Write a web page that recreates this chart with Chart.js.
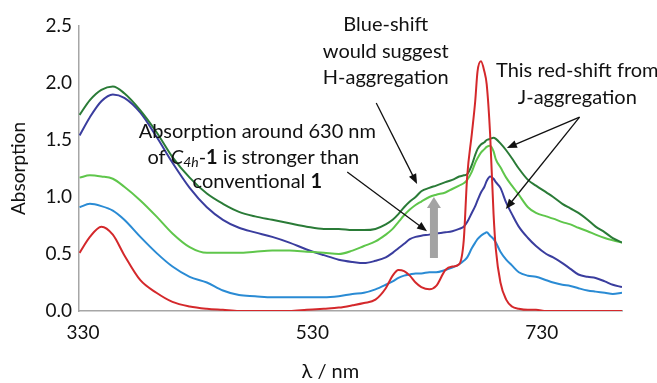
<!DOCTYPE html>
<html>
<head>
<meta charset="utf-8">
<script src="https://cdn.jsdelivr.net/npm/chart.js@4.4.1/dist/chart.umd.min.js"></script>
<style>
  html, body { margin: 0; padding: 0; background: #fff; }
  #wrap { width: 657px; height: 383px; position: relative; }
</style>
</head>
<body>
<div id="wrap"><canvas id="spectra"></canvas></div>
<script>
// ============================
// Data
// ============================
const wavelength = [327,336,346,356,366,380,394,408,423,438,452,466,480,495,510,525,540,553,565,575,
                    585,594,600,605,610,615,620,625,632,638,646,652,658,662,665,669,672,674,677,680,
                    682,685,688,690,694,699,704,710,718,725,734,740,748,755,762,770,777,785,792,800];

const darkGreen = [1.72,1.85,1.94,1.97,1.91,1.76,1.57,1.35,1.17,1.03,0.94,0.87,0.83,0.80,0.77,0.74,0.72,0.72,0.71,0.71,
                   0.72,0.76,0.80,0.85,0.91,0.96,1.00,1.05,1.08,1.10,1.13,1.15,1.18,1.19,1.20,1.28,1.37,1.42,1.46,1.48,
                   1.50,1.51,1.52,1.51,1.47,1.41,1.34,1.25,1.15,1.10,1.04,1.00,0.94,0.90,0.86,0.80,0.74,0.69,0.64,0.60];

const lightGreen = [1.17,1.19,1.18,1.16,1.09,0.97,0.83,0.68,0.56,0.51,0.51,0.51,0.52,0.53,0.53,0.52,0.51,0.50,0.53,0.57,
                    0.61,0.67,0.72,0.78,0.84,0.89,0.93,0.96,1.00,1.02,1.04,1.07,1.10,1.12,1.15,1.22,1.30,1.34,1.39,1.42,
                    1.44,1.45,1.40,1.33,1.26,1.17,1.10,1.02,0.91,0.86,0.83,0.81,0.78,0.76,0.73,0.70,0.67,0.64,0.62,0.60];

const darkBlue = [1.54,1.70,1.84,1.90,1.87,1.74,1.53,1.30,1.08,0.91,0.80,0.73,0.69,0.65,0.60,0.54,0.49,0.45,0.43,0.42,
                  0.44,0.47,0.51,0.55,0.59,0.63,0.65,0.66,0.67,0.68,0.69,0.70,0.72,0.74,0.78,0.86,0.92,0.97,1.04,1.09,
                  1.14,1.18,1.16,1.13,1.08,0.95,0.85,0.74,0.64,0.57,0.50,0.47,0.42,0.37,0.32,0.30,0.29,0.26,0.23,0.21];

const lightBlue = [0.91,0.94,0.92,0.88,0.80,0.65,0.51,0.39,0.30,0.25,0.18,0.14,0.13,0.12,0.12,0.12,0.12,0.13,0.15,0.16,
                   0.19,0.23,0.26,0.29,0.31,0.32,0.33,0.33,0.34,0.34,0.36,0.38,0.41,0.44,0.47,0.55,0.60,0.63,0.66,0.68,
                   0.69,0.66,0.63,0.60,0.52,0.45,0.40,0.34,0.31,0.30,0.27,0.25,0.23,0.22,0.20,0.18,0.17,0.16,0.15,0.16];

const red = [0.51,0.65,0.74,0.67,0.49,0.27,0.16,0.08,0.04,0.02,0.01,0.00,0.00,0.00,0.00,0.01,0.02,0.03,0.05,0.07,
             0.10,0.20,0.31,0.36,0.35,0.31,0.25,0.21,0.19,0.22,0.36,0.39,0.41,0.62,1.18,1.55,1.84,2.10,2.19,2.10,
             1.99,1.55,0.85,0.54,0.25,0.10,0.04,0.02,0.01,0.01,0.00,0.00,0.00,0.00,0.00,0.00,0.00,0.00,0.00,0.00];

const xTicks = [330, 530, 730];
const yTicks = [0, 0.5, 1.0, 1.5, 2.0, 2.5];

// annotation anchors, in data units (nm, absorption)
const noteBlue = { x: 594, y: 2.51, lines: ["Blue-shift", "would suggest", "H-aggregation"] };
const noteRed  = { x: 761, y: 2.105, lines: ["This red-shift from", "J-aggregation"] };
const noteC4h  = { x: 482, y: 1.57 };
const arrows = [
  { from: [585.7, 1.825], to: [621.3, 1.114] },
  { from: [560.4, 1.22],  to: [630.0, 0.70] },
  { from: [763.0, 1.70],  to: [699.6, 1.43] },
  { from: [763.0, 1.70],  to: [698.7, 0.895] }
];
const grayArrow = { x: 636, from: 0.465, to: 1.0 };

const FONT = "Lato";

// ============================
// Helpers
// ============================
function pts(ys) {
    return wavelength.map((w, i) => ({ x: w, y: ys[i] }));
}

function drawArrow(ctx, x1, y1, x2, y2) {
    const ang = Math.atan2(y2 - y1, x2 - x1);
    const len = 10, half = 4;
    ctx.strokeStyle = "#111";
    ctx.fillStyle = "#111";
    ctx.lineWidth = 1.3;
    ctx.beginPath();
    ctx.moveTo(x1, y1);
    ctx.lineTo(x2 - Math.cos(ang) * len * 0.8, y2 - Math.sin(ang) * len * 0.8);
    ctx.stroke();
    ctx.beginPath();
    ctx.moveTo(x2, y2);
    ctx.lineTo(x2 - Math.cos(ang) * len + Math.sin(ang) * half, y2 - Math.sin(ang) * len - Math.cos(ang) * half);
    ctx.lineTo(x2 - Math.cos(ang) * len - Math.sin(ang) * half, y2 - Math.sin(ang) * len + Math.cos(ang) * half);
    ctx.closePath();
    ctx.fill();
}

function segFont(s) {
    const size = s.sub ? 14 : 20;
    return (s.italic ? "italic " : "") + (s.bold ? "bold " : "") + size + "px " + FONT;
}

// rich text line centred on cx
function drawRich(ctx, segs, cx, cy) {
    let w = 0;
    segs.forEach(s => { ctx.font = segFont(s); w += ctx.measureText(s.t).width; });
    let x = cx - w / 2;
    segs.forEach(s => {
        ctx.font = segFont(s);
        ctx.fillText(s.t, x, cy + (s.sub ? 5 : 0));
        x += ctx.measureText(s.t).width;
    });
}

// ============================
// Annotations plugin
// ============================
const notesPlugin = {
    id: "notes",
    afterDatasetsDraw(chart) {
        const { ctx, scales: { x, y } } = chart;
        ctx.save();
        // thick gray arrow
        const gx = x.getPixelForValue(grayArrow.x);
        const gb = y.getPixelForValue(grayArrow.from);
        const gt = y.getPixelForValue(grayArrow.to);
        ctx.fillStyle = "#a3a3a3";
        ctx.fillRect(gx - 4, gt + 9, 8, gb - gt - 9);
        ctx.beginPath();
        ctx.moveTo(gx, gt);
        ctx.lineTo(gx + 7, gt + 11);
        ctx.lineTo(gx - 7, gt + 11);
        ctx.closePath();
        ctx.fill();
        ctx.restore();
    },
    afterDraw(chart) {
        const { ctx, scales: { x, y }, chartArea } = chart;
        ctx.save();
        arrows.forEach(a => drawArrow(ctx,
            x.getPixelForValue(a.from[0]), y.getPixelForValue(a.from[1]),
            x.getPixelForValue(a.to[0]), y.getPixelForValue(a.to[1])));

        ctx.fillStyle = "#111";
        ctx.textBaseline = "middle";
        ctx.textAlign = "center";
        ctx.font = "20px " + FONT;
        [noteBlue, noteRed].forEach(n => {
            const cx = x.getPixelForValue(n.x);
            const cy = y.getPixelForValue(n.y);
            n.lines.forEach((t, i) => ctx.fillText(t, cx, cy + i * 26.5));
        });

        ctx.textAlign = "left";
        const cx = x.getPixelForValue(noteC4h.x);
        const cy = y.getPixelForValue(noteC4h.y);
        drawRich(ctx, [{ t: "Absorption around 630 nm" }], cx, cy);
        drawRich(ctx, [{ t: "of " }, { t: "C", italic: true }, { t: "4h", italic: true, sub: true },
                       { t: "-" }, { t: "1", bold: true }, { t: " is stronger than" }], cx - 4, cy + 25.5);
        drawRich(ctx, [{ t: "conventional " }, { t: "1", bold: true }], cx, cy + 50);

        // x-axis title
        ctx.textAlign = "center";
        ctx.font = "20px " + FONT;
        ctx.fillText("\u03bb / nm", x.getPixelForValue(545.7), chartArea.bottom + 61);
        ctx.restore();
    }
};

// ============================
// Chart
// ============================
const line = (label, color, ys) => ({
    label: label,
    data: pts(ys),
    borderColor: color,
    borderWidth: 2,
    pointRadius: 0,
    fill: false,
    cubicInterpolationMode: "monotone"
});

new Chart(document.getElementById("spectra"), {
    type: "line",
    data: {
        datasets: [
            line("red", "#d4282b", red),
            line("dark green", "#2a7b37", darkGreen),
            line("light green", "#5fc64b", lightGreen),
            line("dark blue", "#3a3d9e", darkBlue),
            line("light blue", "#2a8bd4", lightBlue)
        ]
    },
    options: {
        responsive: true,
        maintainAspectRatio: false,
        animation: false,
        layout: { padding: { left: 0, right: 35, top: 26, bottom: 0 } },
        plugins: { legend: { display: false }, tooltip: { enabled: false } },
        scales: {
            x: {
                type: "linear",
                min: 326.5,
                max: 800,
                afterBuildTicks: s => { s.ticks = xTicks.map(v => ({ value: v })); },
                afterFit: s => { s.height = 72; },
                grid: { display: false, drawTicks: false },
                border: { display: true, color: "#a6a6a6", width: 1.5 },
                ticks: { color: "#111", padding: 10, maxRotation: 0, font: { family: FONT, size: 19 } }
            },
            y: {
                min: 0,
                max: 2.5,
                afterBuildTicks: s => { s.ticks = yTicks.map(v => ({ value: v })); },
                afterFit: s => { s.width = 79; },
                grid: { display: false, drawTicks: false },
                border: { display: true, color: "#a6a6a6", width: 1.5 },
                ticks: { color: "#111", padding: 7, font: { family: FONT, size: 19 },
                         callback: v => v.toFixed(1) },
                title: { display: true, text: "Absorption", color: "#111",
                         padding: { top: 7, bottom: 0 }, font: { family: FONT, size: 19 } }
            }
        }
    },
    plugins: [notesPlugin]
});
</script>
</body>
</html>
